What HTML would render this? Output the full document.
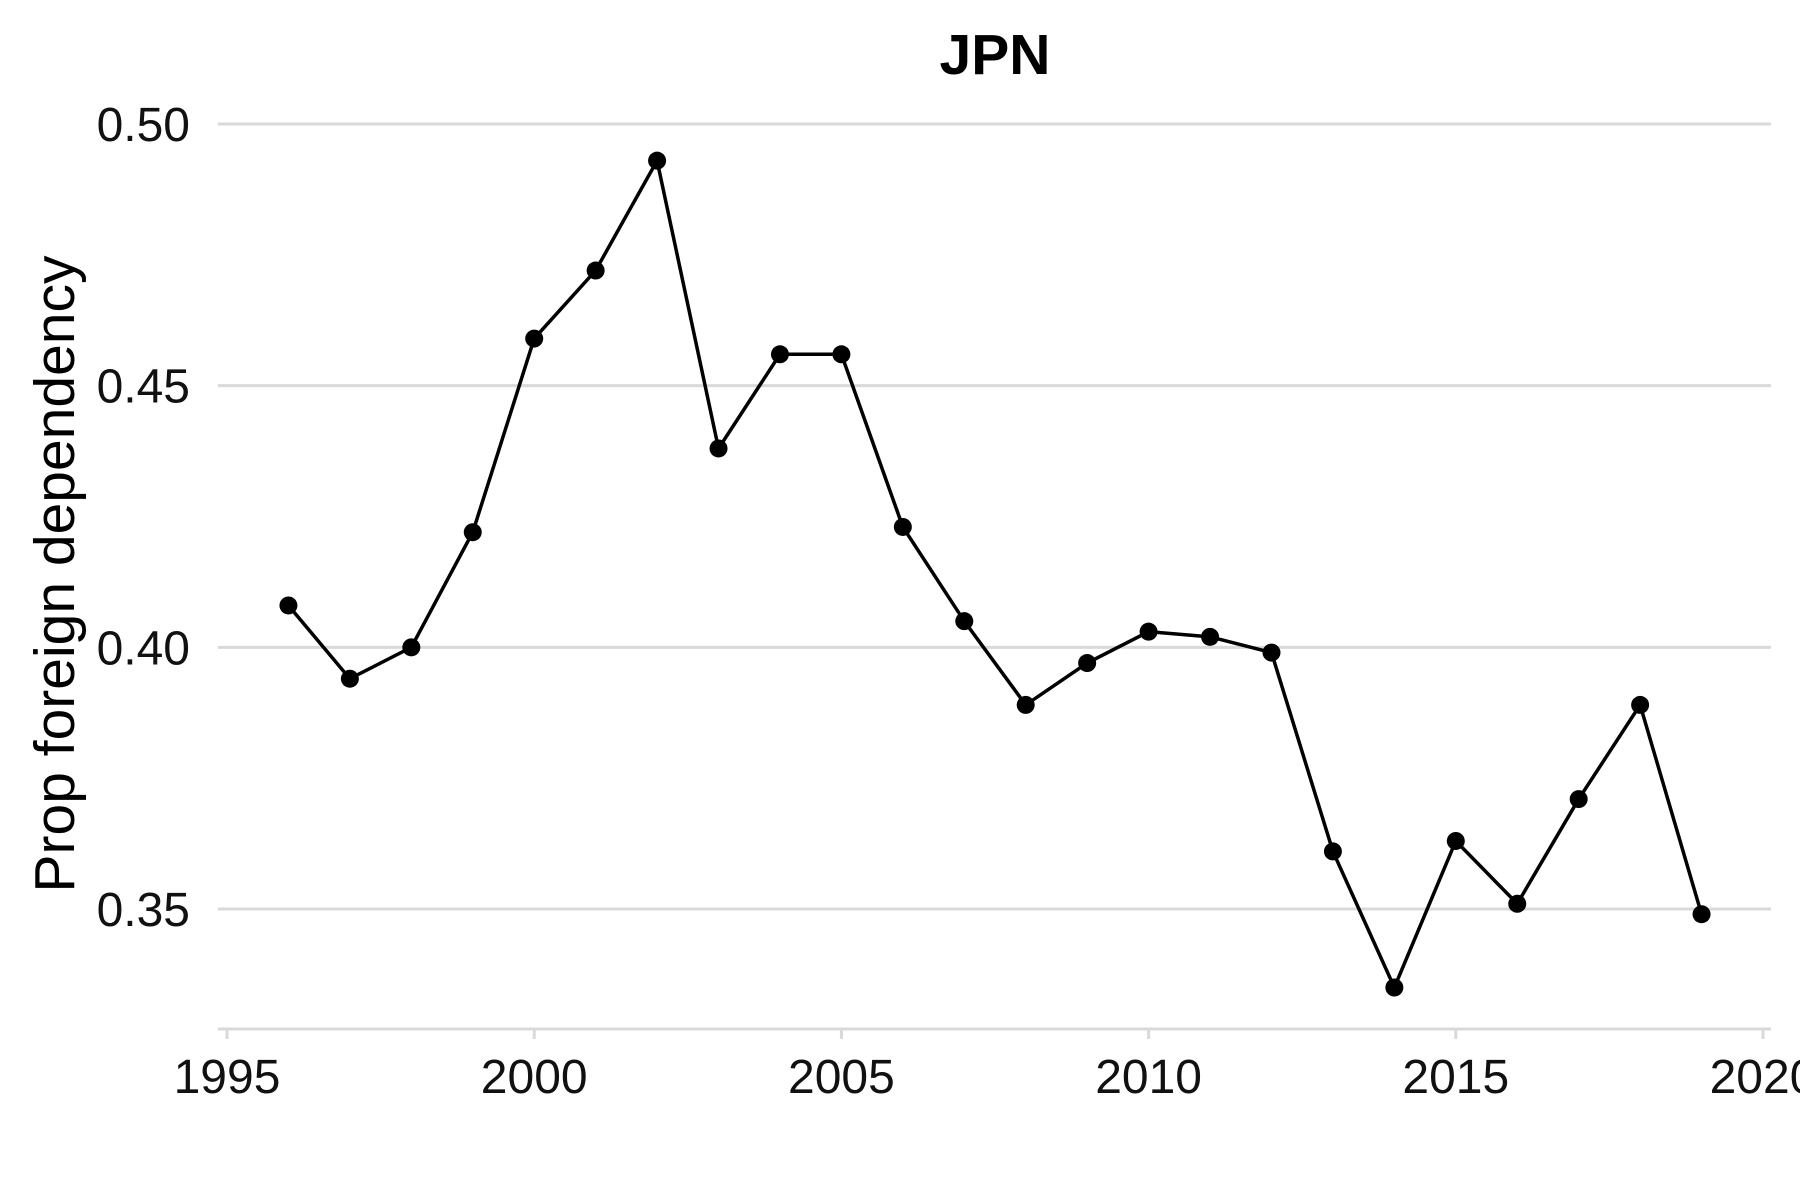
<!DOCTYPE html>
<html><head><meta charset="utf-8"><style>
html,body{margin:0;padding:0;background:#fff;}
svg{display:block;font-family:"Liberation Sans",Arial,sans-serif;}
</style></head><body>
<svg id="chart" width="1800" height="1200" viewBox="0 0 1800 1200">
<text x="995" y="74" text-anchor="middle" font-size="57" font-weight="bold">JPN</text>
<text transform="translate(74,574) rotate(-90)" text-anchor="middle" font-size="57">Prop foreign dependency</text>
<g id="grid"></g><g id="xaxis"></g><g id="series"></g>
</svg>
<script>
const years=[1996,1997,1998,1999,2000,2001,2002,2003,2004,2005,2006,2007,2008,2009,2010,2011,2012,2013,2014,2015,2016,2017,2018,2019];
const values=[0.408,0.394,0.400,0.422,0.459,0.472,0.493,0.438,0.456,0.456,0.423,0.405,0.389,0.397,0.403,0.402,0.399,0.361,0.335,0.363,0.351,0.371,0.389,0.349];
const yTicks=[0.35,0.40,0.45,0.50];
const yTickLabels=["0.35","0.40","0.45","0.50"];
const xTicks=[1995,2000,2005,2010,2015,2020];
const xTickLabels=["1995","2000","2005","2010","2015","2020"];
const NS="http://www.w3.org/2000/svg";
const x=v=>227+(v-1995)*(1763-227)/25;
const y=v=>124+(0.50-v)*(909-124)/0.15;
function mk(t,a,p){const e=document.createElementNS(NS,t);for(const k in a)e.setAttribute(k,a[k]);p.appendChild(e);return e;}
const grid=document.getElementById('grid'),xa=document.getElementById('xaxis'),se=document.getElementById('series');
yTicks.forEach((t,i)=>{
 const l=mk('line',{x1:218,x2:1771,y1:y(t),y2:y(t),stroke:'#d9d9d9','stroke-width':3},grid);
 
 
 const tx=mk('text',{x:190,y:y(t)+17,'text-anchor':'end','font-size':48,fill:'#111'},grid);
 tx.textContent=yTickLabels[i];
 
 
});
const ax=mk('line',{x1:218,x2:1771,y1:1029,y2:1029,stroke:'#d9d9d9','stroke-width':3},xa);


xTicks.forEach((t,i)=>{
 const tk=mk('line',{x1:x(t),x2:x(t),y1:1029,y2:1039,stroke:'#d9d9d9','stroke-width':3},xa);
 
 
 const tx=mk('text',{x:x(t),y:1093,'text-anchor':'middle','font-size':48,fill:'#111'},xa);
 tx.textContent=xTickLabels[i];
 
 
});
const pl=mk('polyline',{points:years.map((yr,i)=>x(yr)+','+y(values[i])).join(' '),fill:'none',stroke:'#000','stroke-width':3.5},se);


years.forEach((yr,i)=>{
 const c=mk('circle',{cx:x(yr),cy:y(values[i]),r:9,fill:'#000'},se);
 
 
});
</script>
</body></html>
